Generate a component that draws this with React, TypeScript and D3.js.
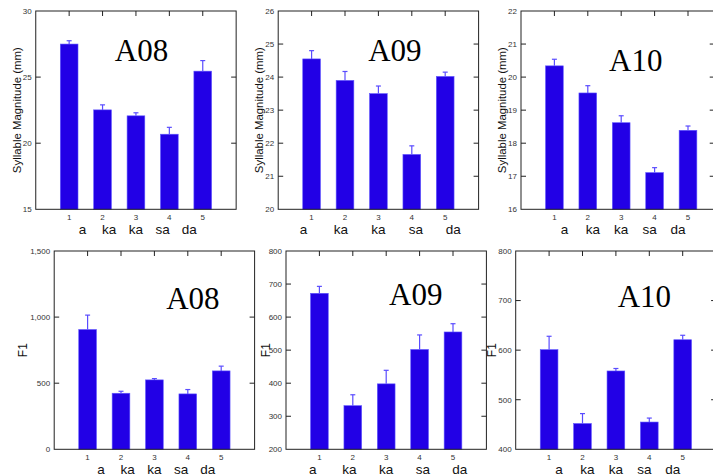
import React, { useEffect, useRef } from 'react';
import * as d3 from 'd3';

// categories on the x axis
const categories = [1, 2, 3, 4, 5];
const syllables = ['a', 'ka', 'ka', 'sa', 'da'];

// syllable magnitude (mm), mean and upper error
const magA08 = [27.5, 22.52, 22.07, 20.68, 25.45];
const magA08Err = [0.25, 0.38, 0.23, 0.52, 0.8];
const magA09 = [24.55, 23.9, 23.5, 21.66, 24.02];
const magA09Err = [0.25, 0.27, 0.23, 0.26, 0.13];
const magA10 = [20.34, 19.52, 18.62, 17.11, 18.39];
const magA10Err = [0.2, 0.22, 0.21, 0.15, 0.13];

// F1
const f1A08 = [906, 424, 525, 419, 593];
const f1A08Err = [109, 15, 10, 33, 36];
const f1A09 = [672, 332, 398, 502, 555];
const f1A09Err = [21, 33, 41, 44, 25];
const f1A10 = [601, 452, 558, 455, 621];
const f1A10Err = [27, 20, 5, 8, 9];

// y ticks
const magA08Ticks = [15, 20, 25, 30];
const magA09Ticks = [20, 21, 22, 23, 24, 25, 26];
const magA10Ticks = [16, 17, 18, 19, 20, 21, 22];
const f1A08Ticks = [0, 500, 1000, 1500];
const f1A09Ticks = [200, 300, 400, 500, 600, 700, 800];
const f1A10Ticks = [400, 500, 600, 700, 800];

const BAR = '#2200e6';
const ERR = '#5a4cff';
const AXIS = '#222';

const App = () => {
  const ref = useRef(null);

  useEffect(() => {
    if (!ref.current) return;
    const svg = d3.select(ref.current);
    svg.selectAll('*').remove();

    const panels = [
      { title: 'A08', vals: magA08, err: magA08Err, ticks: magA08Ticks, label: 'Syllable Magnitude (mm)',
        x: 35.75, y: 11, xMax: 6, tx: 79, ty: 50, lx: 19, spread: 0.8, fmt: d3.format('d') },
      { title: 'A09', vals: magA09, err: magA09Err, ticks: magA09Ticks, label: 'Syllable Magnitude (mm)',
        x: 278.2, y: 11, xMax: 6, tx: 90, ty: 50, lx: 19, spread: 1.12, fmt: d3.format('d') },
      { title: 'A10', vals: magA10, err: magA10Err, ticks: magA10Ticks, label: 'Syllable Magnitude (mm)',
        x: 521, y: 11, xMax: 5.8, tx: 88, ty: 60, lx: 19, spread: 0.85, fmt: d3.format('d') },
      { title: 'A08', vals: f1A08, err: f1A08Err, ticks: f1A08Ticks, label: 'F1',
        x: 54.2, y: 251, xMax: 6, tx: 112, ty: 58, lx: 31, spread: 0.8, fmt: d3.format(',') },
      { title: 'A09', vals: f1A09, err: f1A09Err, ticks: f1A09Ticks, label: 'F1',
        x: 286, y: 251, xMax: 6, tx: 103, ty: 54, lx: 20.5, spread: 1.1, fmt: d3.format(',') },
      { title: 'A10', vals: f1A10, err: f1A10Err, ticks: f1A10Ticks, label: 'F1',
        x: 515.7, y: 251, xMax: 6, tx: 102, ty: 56, lx: 23.7, spread: 0.85, fmt: d3.format(',') },
    ];

    const step = 33.4;
    const h = 198.3;

    panels.forEach((p) => {
      const w = step * p.xMax;
      const g = svg.append('g').attr('transform', `translate(${p.x},${p.y})`);
      const x = d3.scaleLinear().domain([0, p.xMax]).range([0, w]);
      const y = d3
        .scaleLinear()
        .domain([p.ticks[0], p.ticks[p.ticks.length - 1]])
        .range([h, 0]);
      const bw = step * 0.53;

      // bars
      g.selectAll('rect.bar')
        .data(p.vals)
        .enter()
        .append('rect')
        .attr('x', (d, i) => x(categories[i]) - bw / 2)
        .attr('y', (d) => y(d))
        .attr('width', bw)
        .attr('height', (d) => h - y(d))
        .attr('fill', BAR)
        .attr('stroke', '#5f55ff')
        .attr('stroke-width', 0.6);

      // error bars (upper only)
      p.vals.forEach((d, i) => {
        const cx = x(categories[i]);
        const top = y(d + p.err[i]);
        g.append('line')
          .attr('x1', cx).attr('x2', cx)
          .attr('y1', y(d)).attr('y2', top)
          .attr('stroke', ERR).attr('stroke-width', 1.2);
        g.append('line')
          .attr('x1', cx - 2.5).attr('x2', cx + 2.5)
          .attr('y1', top).attr('y2', top)
          .attr('stroke', ERR).attr('stroke-width', 1.2);
      });

      // frame
      g.append('rect')
        .attr('x', 0).attr('y', 0).attr('width', w).attr('height', h)
        .attr('fill', 'none').attr('stroke', AXIS).attr('stroke-width', 1);

      // inner ticks left/right
      p.ticks.slice(1, -1).forEach((t) => {
        g.append('line').attr('x1', 0).attr('x2', 5).attr('y1', y(t)).attr('y2', y(t))
          .attr('stroke', AXIS);
        g.append('line').attr('x1', w - 5).attr('x2', w).attr('y1', y(t)).attr('y2', y(t))
          .attr('stroke', AXIS);
      });
      // top ticks
      categories.forEach((c) => {
        g.append('line').attr('x1', x(c)).attr('x2', x(c)).attr('y1', 0).attr('y2', 5)
          .attr('stroke', AXIS);
      });

      // y tick labels
      g.selectAll('text.yt')
        .data(p.ticks)
        .enter()
        .append('text')
        .attr('x', -4)
        .attr('y', (d) => y(d))
        .attr('dy', '0.35em')
        .attr('text-anchor', 'end')
        .attr('font-family', 'Liberation Sans, Arial, sans-serif')
        .attr('font-size', 8)
        .attr('fill', '#333')
        .text((d) => p.fmt(d));

      // x index labels
      g.selectAll('text.xt')
        .data(categories)
        .enter()
        .append('text')
        .attr('x', (d) => x(d))
        .attr('y', h + 10.5)
        .attr('text-anchor', 'middle')
        .attr('font-family', 'Liberation Sans, Arial, sans-serif')
        .attr('font-size', 8)
        .attr('fill', '#333')
        .text((d) => d);

      // syllable names
      g.selectAll('text.syl')
        .data(syllables)
        .enter()
        .append('text')
        .attr('x', (d, i) => x(3) + (categories[i] - 3) * step * p.spread)
        .attr('y', h + 25)
        .attr('text-anchor', 'middle')
        .attr('font-family', 'Liberation Sans, Arial, sans-serif')
        .attr('font-size', 13.5)
        .attr('fill', '#111')
        .text((d) => d);

      // y label
      g.append('text')
        .attr('transform', `translate(${-p.lx},${h / 2})rotate(-90)`)
        .attr('text-anchor', 'middle')
        .attr('dominant-baseline', 'central')
        .attr('font-family', 'Liberation Sans, Arial, sans-serif')
        .attr('font-size', p.label === 'F1' ? 12 : 11.4)
        .attr('fill', '#111')
        .text(p.label);

      // panel title
      g.append('text')
        .attr('x', p.tx)
        .attr('y', p.ty)
        .attr('font-family', 'Liberation Serif, Times New Roman, serif')
        .attr('font-size', 31)
        .attr('fill', '#000')
        .text(p.title);
    });
  }, []);

  return (
    <svg
      ref={ref}
      width={713}
      height={476}
      style={{ position: 'absolute', left: 0, top: 0, background: '#fff' }}
    />
  );
};

export default App;
